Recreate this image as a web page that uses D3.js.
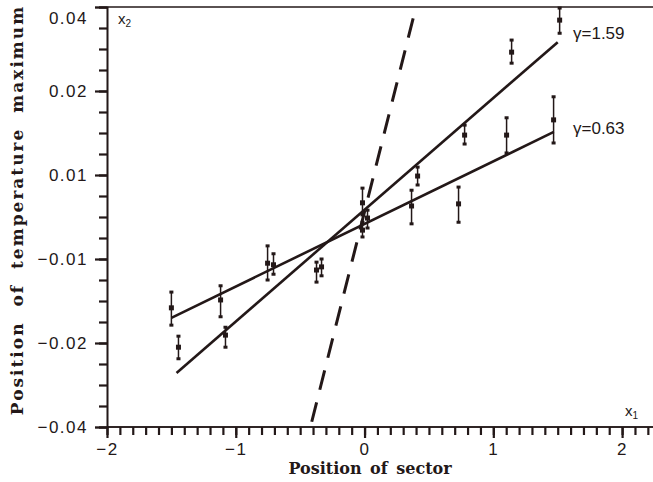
<!DOCTYPE html>
<html>
<head>
<meta charset="utf-8">
<script src="https://cdn.jsdelivr.net/npm/d3@7"></script>
<style>
  body { margin: 0; background: #fff; }
  svg { display: block; }
</style>
</head>
<body>
<script>
// y tick labels as printed on the scan (evenly spaced)
var yTickVals = [-0.04, -0.024, -0.008, 0.008, 0.024, 0.04];
var yTickLabels = ["\u22120.04", "\u22120.02", "\u22120.01", "0.01", "0.02", "0.04"];
var xTickVals = [-2, -1, 0, 1, 2];

// measured points: x, y, low, high
var ptX  = [-1.50, -1.445, -1.118, -1.080, -0.753, -0.707, -0.373, -0.334, -0.016, 0.023, -0.016, 0.365, 0.412, 0.730, 0.777, 1.103, 1.142, 1.468, 1.515];
var ptY  = [-0.0173, -0.0248, -0.0158, -0.0225, -0.0088, -0.0091, -0.0101, -0.0095, 0.0027, -0.0002, -0.0025, 0.0021, 0.0078, 0.0025, 0.0156, 0.0156, 0.0314, 0.0185, 0.0375];
var ptLo = [-0.0206, -0.0270, -0.0190, -0.0248, -0.0120, -0.0109, -0.0124, -0.0112, 0.0004, -0.0021, -0.0038, -0.0013, 0.0061, -0.0010, 0.0139, 0.0122, 0.0293, 0.0141, 0.0350];
var ptHi = [-0.0143, -0.0227, -0.0131, -0.0210, -0.0055, -0.0070, -0.0086, -0.0080, 0.0055, 0.0013, -0.0010, 0.0051, 0.0095, 0.0057, 0.0175, 0.0189, 0.0337, 0.0229, 0.0398];

// fitted lines
var fitSteep = [[-1.46, -0.0297], [1.50, 0.0333]];   // gamma = 1.59
var fitFlat  = [[-1.50, -0.0192], [1.47, 0.0162]];   // gamma = 0.63
var dashLine = [[-0.41, -0.039], [0.38, 0.0381]];

var W = 653, H = 482;
var ink = "#231818";

var svg = d3.select("body").append("svg").attr("width", W).attr("height", H);

var x = d3.scaleLinear().domain([-2, 2.24]).range([107, 653]);
var y = d3.scaleLinear().domain([-0.04, 0.04]).range([427, 7]);

// top frame line
svg.append("line").attr("x1", 107).attr("x2", W).attr("y1", y(0.04)).attr("y2", y(0.04))
  .attr("stroke", ink).attr("stroke-width", 1.6);

var xMinor = d3.range(0, 43).map(i => -2 + i * 0.1);
var yMinor = d3.range(0, 21).map(i => -0.04 + i * 0.004);

// minor ticks (no labels)
var gxm = svg.append("g").attr("transform", "translate(0," + y(-0.04) + ")")
  .call(d3.axisBottom(x).tickValues(xMinor).tickSize(8).tickFormat(""));
var gym = svg.append("g").attr("transform", "translate(" + x(-2) + ",0)")
  .call(d3.axisLeft(y).tickValues(yMinor).tickSize(8).tickFormat(""));

// major ticks with labels
var gx = svg.append("g").attr("transform", "translate(0," + y(-0.04) + ")")
  .call(d3.axisBottom(x).tickValues(xTickVals).tickSize(11).tickPadding(5)
    .tickFormat(d => d < 0 ? "\u2212" + Math.abs(d) : d));
var gy = svg.append("g").attr("transform", "translate(" + x(-2) + ",0)")
  .call(d3.axisLeft(y).tickValues(yTickVals).tickSize(12).tickPadding(7)
    .tickFormat((d, i) => yTickLabels[i]));

[gxm, gym, gx, gy].forEach(function(g) {
  g.selectAll(".domain").attr("stroke", ink).attr("stroke-width", 1.6);
  g.selectAll(".tick line").attr("stroke", ink).attr("stroke-width", 2.2);
  g.selectAll(".tick text")
    .attr("fill", ink)
    .attr("font-family", "Liberation Sans, Arial, sans-serif")
    .attr("font-size", 17).attr("letter-spacing", 1.5);
});
gx.select(".domain").attr("d", "M" + x(-2) + ",0H" + W);
gxm.select(".domain").attr("d", "M" + x(-2) + ",0H" + W);
gy.selectAll(".tick text").filter(d => d === 0.04).attr("dy", "0.95em");

// axis titles
svg.append("text")
  .attr("x", 370).attr("y", 474)
  .attr("text-anchor", "middle")
  .attr("font-family", "DejaVu Serif, serif").attr("font-weight", "bold")
  .attr("font-size", 16).attr("word-spacing", 3)
  .attr("fill", ink)
  .text("Position of sector");
svg.append("text")
  .attr("transform", "translate(23,210) rotate(-90)")
  .attr("text-anchor", "middle")
  .attr("font-family", "DejaVu Serif, serif").attr("font-weight", "bold")
  .attr("font-size", 17).attr("letter-spacing", 2).attr("word-spacing", 7)
  .attr("fill", ink)
  .text("Position of temperature maximum");

// variable names inside the frame
var lab2 = svg.append("text").attr("x", 118).attr("y", 24)
  .attr("font-family", "Liberation Sans, Arial, sans-serif").attr("font-size", 15).attr("fill", ink);
lab2.append("tspan").text("x");
lab2.append("tspan").attr("font-size", 10).attr("dy", 3).text("2");
var lab1 = svg.append("text").attr("x", 625).attr("y", 416)
  .attr("font-family", "Liberation Sans, Arial, sans-serif").attr("font-size", 15).attr("fill", ink);
lab1.append("tspan").text("x");
lab1.append("tspan").attr("font-size", 10).attr("dy", 3).text("1");

// fit lines
var lineGen = d3.line().x(d => x(d[0])).y(d => y(d[1]));
svg.append("path").datum(fitSteep).attr("d", lineGen)
  .attr("stroke", ink).attr("stroke-width", 2.6).attr("fill", "none");
svg.append("path").datum(fitFlat).attr("d", lineGen)
  .attr("stroke", ink).attr("stroke-width", 2.6).attr("fill", "none");
svg.append("path").datum(dashLine).attr("d", lineGen)
  .attr("stroke", ink).attr("stroke-width", 3).attr("fill", "none")
  .attr("stroke-dasharray", "20,13");

// error bars and markers
var idx = d3.range(ptX.length);
svg.selectAll("line.err").data(idx).enter().append("line")
  .attr("class", "err")
  .attr("x1", i => x(ptX[i])).attr("x2", i => x(ptX[i]))
  .attr("y1", i => y(ptLo[i])).attr("y2", i => y(ptHi[i]))
  .attr("stroke", ink).attr("stroke-width", 1.5);
svg.selectAll("rect.cap").data(idx.concat(idx)).enter().append("rect")
  .attr("class", "cap")
  .attr("x", i => x(ptX[i]) - 2)
  .attr("y", (i, k) => y(k < idx.length ? ptLo[i] : ptHi[i]) - 1.5)
  .attr("width", 4).attr("height", 3)
  .attr("fill", ink);
svg.selectAll("rect.pt").data(idx).enter().append("rect")
  .attr("class", "pt")
  .attr("x", i => x(ptX[i]) - 2.5).attr("y", i => y(ptY[i]) - 2.5)
  .attr("width", 5).attr("height", 5)
  .attr("fill", ink);

// gamma labels
svg.append("text").attr("x", 573).attr("y", 39)
  .attr("font-family", "Liberation Sans, Arial, sans-serif").attr("font-size", 17)
  .attr("fill", ink).text("\u03b3=1.59");
svg.append("text").attr("x", 573).attr("y", 134)
  .attr("font-family", "Liberation Sans, Arial, sans-serif").attr("font-size", 17)
  .attr("fill", ink).text("\u03b3=0.63");
</script>
</body>
</html>
